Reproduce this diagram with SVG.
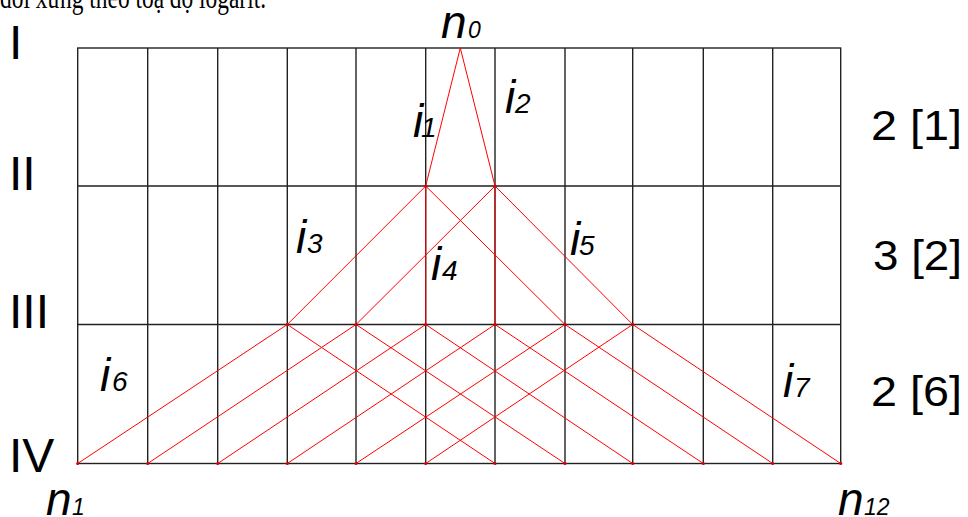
<svg xmlns="http://www.w3.org/2000/svg" width="968" height="517" viewBox="0 0 968 517">
<style>
.grid{stroke:#222;stroke-width:1.4;fill:none}
.red{stroke:#ff0000;stroke-width:1;fill:none}
.dot{fill:#e00000}
.rom{font-family:"Liberation Sans",Arial,sans-serif;font-size:48px;fill:#000}
.lab{font-family:"Liberation Sans",Arial,sans-serif;font-size:42px;fill:#000}
.it{font-family:"Liberation Sans",Arial,sans-serif;font-style:italic;font-size:46px;fill:#000}
.sub{font-family:"Liberation Sans",Arial,sans-serif;font-style:italic;font-size:28px;fill:#000}
.nsub{font-family:"Liberation Sans",Arial,sans-serif;font-style:italic;font-size:23px;fill:#000}
.body{font-family:"Liberation Serif","Times New Roman",serif;font-size:31px;fill:#000}
</style>
<text class="body" x="0" y="8" textLength="266" lengthAdjust="spacingAndGlyphs">đối xứng theo toạ độ logarit.</text>
<g id="grid">
<rect class="grid" x="77.7" y="48" width="763" height="415.5"/>
<path class="grid" d="M77.7 186H840.7M77.7 324.5H840.7M147.7 48V463.5M217.7 48V463.5M287.3 48V463.5M356 48V463.5M425.7 48V463.5M495 48V463.5M565 48V463.5M632.7 48V463.5M703.3 48V463.5M772.7 48V463.5"/>
</g>
<g id="connectors">
<path class="red" d="M460.3 48L425.7 186M460.3 48L495 186"/>
<path class="red" d="M425.7 186L287.3 324.5M425.7 186V324.5M425.7 186L565 324.5M495 186L356 324.5M495 186V324.5M495 186L632.7 324.5"/>
<path class="red" d="M287.3 324.5L77.7 463.5M287.3 324.5L495 463.5M356 324.5L147.7 463.5M356 324.5L565 463.5M425.7 324.5L217.7 463.5M425.7 324.5L632.7 463.5M495 324.5L287.3 463.5M495 324.5L703.3 463.5M565 324.5L356 463.5M565 324.5L772.7 463.5M632.7 324.5L425.7 463.5M632.7 324.5L840.7 463.5"/>
</g>
<g id="nodes-level-II">
<circle class="dot" cx="425.7" cy="186" r="1.6"/><circle class="dot" cx="495" cy="186" r="1.6"/>
</g>
<g id="nodes-level-III">
<circle class="dot" cx="287.3" cy="324.5" r="1.6"/><circle class="dot" cx="356" cy="324.5" r="1.6"/><circle class="dot" cx="425.7" cy="324.5" r="1.6"/><circle class="dot" cx="495" cy="324.5" r="1.6"/><circle class="dot" cx="565" cy="324.5" r="1.6"/><circle class="dot" cx="632.7" cy="324.5" r="1.6"/>
</g>
<g id="nodes-level-IV">
<circle class="dot" cx="77.7" cy="463.5" r="1.6"/><circle class="dot" cx="147.7" cy="463.5" r="1.6"/><circle class="dot" cx="217.7" cy="463.5" r="1.6"/><circle class="dot" cx="287.3" cy="463.5" r="1.6"/><circle class="dot" cx="356" cy="463.5" r="1.6"/><circle class="dot" cx="425.7" cy="463.5" r="1.6"/><circle class="dot" cx="495" cy="463.5" r="1.6"/><circle class="dot" cx="565" cy="463.5" r="1.6"/><circle class="dot" cx="632.7" cy="463.5" r="1.6"/><circle class="dot" cx="703.3" cy="463.5" r="1.6"/><circle class="dot" cx="772.7" cy="463.5" r="1.6"/><circle class="dot" cx="840.7" cy="463.5" r="1.6"/>
</g>
<g id="level-labels">
<text class="rom" x="9" y="59">I</text>
<text class="rom" x="9" y="190">II</text>
<text class="rom" x="9" y="328">III</text>
<text class="rom" x="9" y="472">IV</text>
</g>
<g id="count-labels">
<text class="lab" x="871" y="140" textLength="91" lengthAdjust="spacingAndGlyphs">2 [1]</text>
<text class="lab" x="873" y="270" textLength="89" lengthAdjust="spacingAndGlyphs">3 [2]</text>
<text class="lab" x="871" y="406" textLength="91" lengthAdjust="spacingAndGlyphs">2 [6]</text>
</g>
<g id="node-n0"><text class="it" x="441" y="38">n</text><text class="nsub" x="468" y="38">0</text></g>
<g id="node-n1"><text class="it" x="46" y="515">n</text><text class="nsub" x="72" y="515">1</text></g>
<g id="node-n12"><text class="it" x="838" y="515">n</text><text class="nsub" x="864" y="515">12</text></g>
<g id="label-i1"><text class="it" x="413" y="136.7">i</text><text class="sub" x="421" y="136.7">1</text></g>
<g id="label-i2"><text class="it" x="505" y="112.7">i</text><text class="sub" x="515" y="112.7">2</text></g>
<g id="label-i3"><text class="it" x="296" y="253.3">i</text><text class="sub" x="307" y="253.3">3</text></g>
<g id="label-i4"><text class="it" x="431" y="280">i</text><text class="sub" x="442" y="280">4</text></g>
<g id="label-i5"><text class="it" x="570" y="255">i</text><text class="sub" x="579" y="255">5</text></g>
<g id="label-i6"><text class="it" x="100" y="390.7">i</text><text class="sub" x="112" y="390.7">6</text></g>
<g id="label-i7"><text class="it" x="783" y="396.7">i</text><text class="sub" x="794" y="396.7">7</text></g>
</svg>
